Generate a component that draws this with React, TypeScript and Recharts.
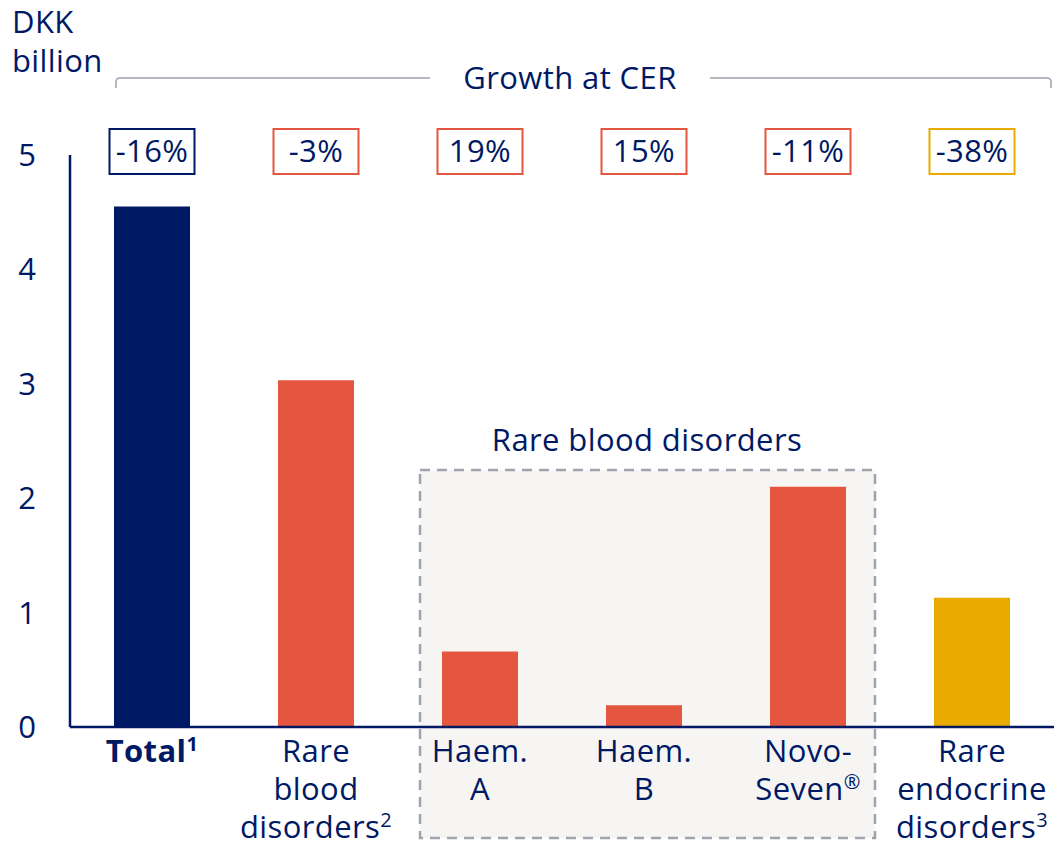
import { Bar, BarChart, Cell, LabelList, XAxis, YAxis } from "recharts";

const categories = ["Total", "Rare blood disorders", "Haem. A", "Haem. B", "NovoSeven", "Rare endocrine disorders"];
const salesDkkBn = [4.55, 3.03, 0.66, 0.19, 2.1, 1.13];
const growthCer = ["-16%", "-3%", "19%", "15%", "-11%", "-38%"];
// each tick line: [text, superscript]
const tickLines: [string, string][][] = [
	[["Total", "1"]],
	[["Rare", ""], ["blood", ""], ["disorders", "2"]],
	[["Haem.", ""], ["A", ""]],
	[["Haem.", ""], ["B", ""]],
	[["Novo-", ""], ["Seven", "®"]],
	[["Rare", ""], ["endocrine", ""], ["disorders", "3"]],
];
const yTicks = [0, 1, 2, 3, 4, 5];

const NAVY = "#001965";
const RED = "#e55641";
const YELLOW = "#e9ab00";
const GREY = "#9ea3ad";
const barColors = [NAVY, RED, RED, RED, RED, YELLOW];
const FONT = "'Open Sans', 'Noto Sans', sans-serif";
const FS = 31;
const LS = 0.4;

const data = categories.map((name, i) => ({
	name,
	value: salesDkkBn[i],
	growth: growthCer[i],
}));

const XTick = (props: any) => {
	const { x, payload } = props;
	const idx = categories.indexOf(payload.value);
	const lines = tickLines[idx] || [[payload.value, ""]];
	return (
		<g>
			{lines.map(([txt, sup], i) => (
				<text
					key={i}
					x={x}
					y={762 + i * 38}
					textAnchor="middle"
					fill={NAVY}
					fontSize={FS}
					letterSpacing={LS}
					fontFamily={FONT}
					fontWeight={idx === 0 ? 700 : 400}
				>
					{txt}
					{sup && (
						<tspan fontSize={20} dy={-11}>
							{sup}
						</tspan>
					)}
				</text>
			))}
		</g>
	);
};

const YTick = (props: any) => {
	const { y, payload } = props;
	return (
		<text x={27} y={y} dy={11} textAnchor="middle" fill={NAVY} fontSize={FS} fontFamily={FONT}>
			{payload.value}
		</text>
	);
};

const GrowthBox = (props: any) => {
	const { x, width, index, value } = props;
	const cx = x + width / 2;
	return (
		<g>
			<rect x={cx - 42.5} y={129} width={85} height={45} fill="#fff" stroke={barColors[index]} strokeWidth={2} />
			<text x={cx} y={162} textAnchor="middle" fill={NAVY} fontSize={FS} letterSpacing={LS} fontFamily={FONT}>
				{value}
			</text>
		</g>
	);
};

const App = () => {
	return (
		<div style={{ position: "absolute", left: 0, top: 0, width: 1054, height: 847, background: "#fff" }}>
			<svg width={1054} height={847} style={{ position: "absolute", left: 0, top: 0 }}>
				<text x={12} y={33} fill={NAVY} fontSize={FS} letterSpacing={LS} fontFamily={FONT}>
					DKK
				</text>
				<text x={12} y={72} fill={NAVY} fontSize={FS} letterSpacing={LS} fontFamily={FONT}>
					billion
				</text>
				<path d="M116,88 L116,82 Q116,78 120,78 L430,78 M710,78 L1047,78 Q1051,78 1051,82 L1051,88" fill="none" stroke={GREY} strokeWidth={1.5} />
				<text x={570} y={89} textAnchor="middle" fill={NAVY} fontSize={FS} letterSpacing={LS} fontFamily={FONT}>
					Growth at CER
				</text>
				<rect x={420} y={470} width={455} height={368} fill="#f6f5f4" stroke={GREY} strokeWidth={2.5} strokeDasharray="10 7" />
				<text x={647} y={451} textAnchor="middle" fill={NAVY} fontSize={FS} letterSpacing={LS} fontFamily={FONT}>
					Rare blood disorders
				</text>
			</svg>
			<div style={{ position: "absolute", left: 0, top: 0 }}>
				<BarChart width={1054} height={847} data={data} margin={{ top: 155, right: 0, left: 0, bottom: 0 }}>
					<XAxis
						dataKey="name"
						height={120}
						interval={0}
						tickLine={false}
						axisLine={{ stroke: NAVY, strokeWidth: 2.5 }}
						tick={<XTick />}
					/>
					<YAxis
						width={70}
						domain={[0, 5]}
						ticks={yTicks}
						tickLine={false}
						axisLine={{ stroke: NAVY, strokeWidth: 2.5 }}
						tick={<YTick />}
					/>
					<Bar dataKey="value" barSize={76} isAnimationActive={false}>
						{data.map((_, i) => (
							<Cell key={i} fill={barColors[i]} />
						))}
						<LabelList dataKey="growth" content={<GrowthBox />} />
					</Bar>
				</BarChart>
			</div>
		</div>
	);
};

export default App;
